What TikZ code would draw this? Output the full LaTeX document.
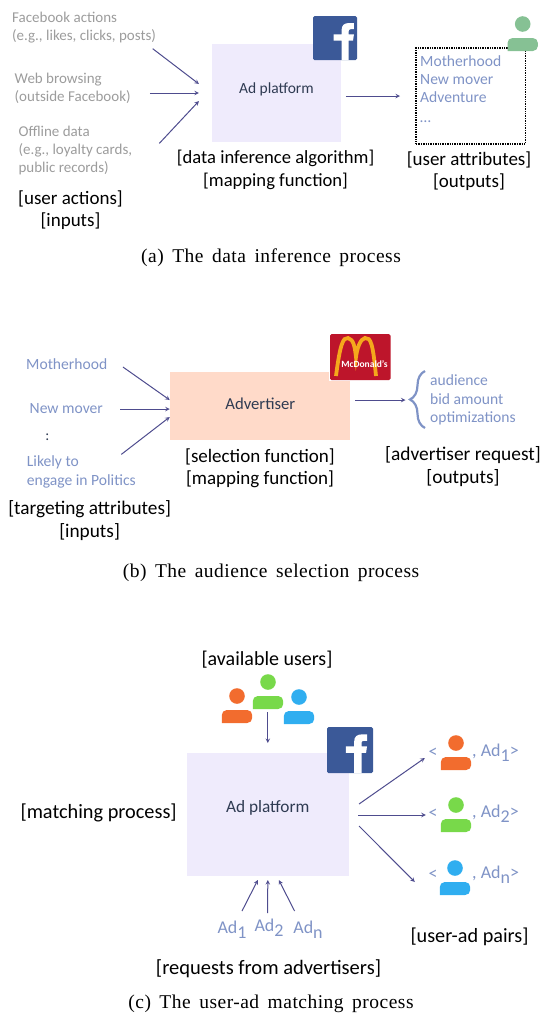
\documentclass[tikz,border=0pt]{standalone}
\usepackage{fontspec}
\setmainfont{Carlito}
\newfontfamily\capfont[LetterSpace=2.5]{Liberation Serif}
\usetikzlibrary{arrows,positioning,decorations.pathreplacing}
\definecolor{flowcol}{HTML}{4E4C8E}
\definecolor{bluetxt}{HTML}{7F93C6}
\definecolor{graytxt}{HTML}{9C9C9C}
\definecolor{darktxt}{HTML}{2F3B52}
\definecolor{lavender}{HTML}{EFEBFC}
\definecolor{peach}{HTML}{FFDAC9}
\definecolor{fbblue}{HTML}{3B5998}
\definecolor{mcred}{HTML}{BD152B}
\definecolor{mcyellow}{HTML}{F5A81C}
\definecolor{paleuser}{HTML}{86C194}
\definecolor{orangeuser}{HTML}{F26C2E}
\definecolor{greenuser}{HTML}{78D94A}
\definecolor{blueuser}{HTML}{30AEF0}
\newcommand{\AdSub}[1]{Ad\raisebox{-5pt}{#1}}
\newcommand{\CapLine}[1]{\capfont\fontsize{19.5}{22}\selectfont\spaceskip=8.5pt\relax #1}
\tikzset{
 x=1pt,y=-1pt,
 FlowStyle/.style={-stealth,draw=flowcol,line width=1pt},
 BoxStyle/.style={fill=#1,inner sep=0pt,outer sep=13.5pt},
 GrayText/.style={text=graytxt,align=left,anchor=west,inner sep=0pt,font=\fontsize{15}{18}\selectfont},
 BlueText/.style={text=bluetxt,align=left,anchor=west,inner sep=0pt,font=\fontsize{15.6}{18.3}\selectfont},
 AdText/.style={text=bluetxt,inner sep=0pt,font=\fontsize{18}{20}\selectfont},
 NameText/.style={text=darktxt,inner sep=0pt,font=\fontsize{#1}{18}\selectfont},
 TagText/.style={text=black,align=center,inner sep=0pt,font=\fontsize{#1}{22.3}\selectfont},
 CapText/.style={text=black,inner sep=0pt},
 user/.pic={
  \fill[#1] (0,0) circle (7.8);
  \fill[#1] (-15.2,27) [rounded corners=5pt] -- (-15.2,14) -- (15.2,14) -- (15.2,27) [sharp corners] -- cycle;
 },
 pics/fblogo/.style={code={
  \fill[fbblue,rounded corners=1.5pt] (0,0) rectangle (1,1);
  \fill[white] (0.59+#1,1) -- (0.59+#1,0.56) -- (0.41+#1,0.56) -- (0.41+#1,0.42) -- (0.59+#1,0.42)
   -- (0.59+#1,0.32) .. controls (0.59+#1,0.20) and (0.66+#1,0.16) .. (0.76+#1,0.16)
   -- (0.87+#1,0.16) -- (0.87+#1,0.30) -- (0.80+#1,0.30) .. controls (0.76+#1,0.30) and (0.75+#1,0.32) .. (0.75+#1,0.35)
   -- (0.75+#1,0.42) -- (0.87+#1,0.42) -- (0.85+#1,0.56) -- (0.75+#1,0.56) -- (0.75+#1,1) -- cycle;
 }},
}
\begin{document}
\begin{tikzpicture}
\useasboundingbox (0,0) rectangle (542,1013);
% data inference
\node[BoxStyle=lavender,minimum width=128.5pt,minimum height=98pt] (adA) at (276.7,93) {};
\node[NameText=15.5] (adAname) at (276.4,89) {Ad platform};
\pic[xscale=44,yscale=44] at (313,16) {fblogo=0.06};
\node[GrayText] (fbact) at (12,28) {Facebook actions\\(e.g., likes, clicks, posts)};
\node[GrayText] (webact) at (14.5,88) {Web browsing\\(outside Facebook)};
\node[GrayText] (offact) at (18.4,150) {Offline data\\(e.g., loyalty cards,\\public records)};
\node[TagText=19] (tagactions) at (70.5,210) {[user actions]\\{[inputs]}};
\node[TagText=18.6] (tagalgo) at (275.6,170) {[data inference algorithm]\\{[mapping function]}};
\node[draw=black,densely dotted,line width=1.4pt,inner sep=0pt,minimum width=109.5pt,minimum height=96pt,outer sep=16pt] (attrbox) at (470.75,96) {};
\node[BlueText] (attrlist) at (420,79) {Motherhood\\New mover\\Adventure};
\node[BlueText] (attrmore) at (420,122) {…};
\pic at (522.7,24) {user=paleuser};
\node[TagText=19] (tagattr) at (469,171.5) {[user attributes]\\{[outputs]}};
\draw[FlowStyle] ([shift={(-3.5,5)}]fbact.south east) -- ([yshift=9pt]adA.west);
\draw[FlowStyle] ([shift={(19,5)}]webact.east) -- (adA.west);
\draw[FlowStyle] ([shift={(27,18)}]offact.north east) -- ([yshift=-8pt]adA.west);
\draw[FlowStyle] ([shift={(-8.5,3)}]adA.east) -- (attrbox.west);
% audience selection
\node[BoxStyle=peach,outer sep=0pt,minimum width=180.5pt,minimum height=68pt] (advbox) at (260,406) {};
\node[NameText=16.7] (advname) at (260.3,404) {Advertiser};
\node[fill=white,inner sep=0pt,minimum width=62pt,minimum height=47pt] (mcback) at (360,357.5) {};
\fill[mcred,rounded corners=1.5pt] (330,334) rectangle (390.5,380);
\draw[mcyellow,line width=3.8pt] (336,376) .. controls (340,345) and (343,337) .. (348,338) .. controls (354,339) and (355,349) .. (356,357) .. controls (357,349) and (360,339) .. (365,338) .. controls (371,337) and (373,345) .. (376,376);
\node[text=white,inner sep=0pt,font=\bfseries\fontsize{9.5}{10}\selectfont] (mcname) at (364.5,364.5) {McDonald's};
\node[BlueText] (motherhood) at (26,364) {Motherhood};
\node[BlueText] (newmover) at (29.5,409) {New mover};
\node[text=darktxt,inner sep=0pt,font=\fontsize{15}{18}\selectfont] (moredots) at (47.5,437) {:};
\node[BlueText] (politics) at (26.7,472) {Likely to\\engage in Politics};
\draw[FlowStyle] ([shift={(15.5,3)}]motherhood.east) -- ([yshift=6pt]advbox.west);
\draw[FlowStyle] ([xshift=17pt]newmover.east) -- ([yshift=-3pt]advbox.west);
\draw[FlowStyle] ([shift={(40,-1.5)}]politics.north) -- ([yshift=-11pt]advbox.west);
\node[BlueText] (reqlist) at (430,400) {audience\\bid amount\\optimizations};
\draw[decorate,decoration={brace,amplitude=15pt},draw=bluetxt,line width=2.2pt] (425,428) -- (425,371);
\coordinate (reqin) at (405.5,400);
\draw[FlowStyle] ([shift={(4.75,-6)}]advbox.east) -- (reqin);
\node[TagText=19] (tagsel) at (260,468) {[selection function]\\{[mapping function]}};
\node[TagText=19.4] (tagreq) at (463,466.5) {[advertiser request]\\{[outputs]}};
\node[TagText=19.3] (tagtarget) at (89.6,520.5) {[targeting attributes]\\{[inputs]}};
% user-ad matching
\node[TagText=20] (tagusers) at (267,659.5) {[available users]};
\pic at (237,696) {user=orangeuser};
\pic at (299,697) {user=blueuser};
\pic at (268,682) {user=greenuser};
\node[BoxStyle=lavender,outer sep=10pt,minimum width=162.5pt,minimum height=123pt] (adC) at (267.8,814.5) {};
\node[NameText=17.3] (adCname) at (267.7,808) {Ad platform};
\pic[xscale=46,yscale=46] at (327,727) {fblogo=0};
\coordinate (crowd) at (267.8,712);
\draw[FlowStyle] (crowd) -- (adC.north);
\node[TagText=20.3] (tagmatch) at (98.6,812.5) {[matching process]};
\foreach \nm/\cl/\hx/\hy/\ty/\sb in {pairA/orangeuser/456/743/753/1,pairB/greenuser/456/805/814/2,pairC/blueuser/455/868/875/n}{
 \pic at (\hx,\hy) {user=\cl};
 \node[AdText] (\nm open) at (433,\ty) {<};
 \node[AdText,anchor=west] (\nm) at (472,\ty) {, \AdSub{\sb}>};
}
\draw[FlowStyle] ([yshift=10.5pt]adC.east) -- ([shift={(-3.5,5)}]pairAopen.west);
\draw[FlowStyle] ([shift={(-1,0.5)}]adC.east) -- ([shift={(-2.5,1)}]pairBopen.west);
\draw[FlowStyle] ([yshift=-11.5pt]adC.east) -- ([shift={(-13.5,7)}]pairCopen.west);
\node[AdText] (adone) at (232,930) {\AdSub{1}};
\node[AdText] (adtwo) at (269,928) {\AdSub{2}};
\node[AdText] (adn) at (308,930) {\AdSub{n}};
\draw[FlowStyle] ([shift={(10,-10)}]adone.north) -- ([shift={(-10,-6)}]adC.south);
\draw[FlowStyle] ([shift={(-1.4,-6)}]adtwo.north) -- ([yshift=6pt]adC.south);
\draw[FlowStyle] ([shift={(-13.4,-10)}]adn.north) -- ([shift={(11,-6)}]adC.south);
\node[TagText=20.2] (tagpairs) at (469.5,936.5) {[user-ad pairs]};
\node[TagText=20.5] (tagreqs) at (268.5,969) {[requests from advertisers]};
% captions
\node[CapText] (capa) at (271,257.5) {\CapLine{(a) The data inference process}};
\node[CapText] (capb) at (271,572.5) {\CapLine{(b) The audience selection process}};
\node[CapText] (capc) at (271,1004) {\CapLine{(c) The user-ad matching process}};
\end{tikzpicture}
\end{document}
